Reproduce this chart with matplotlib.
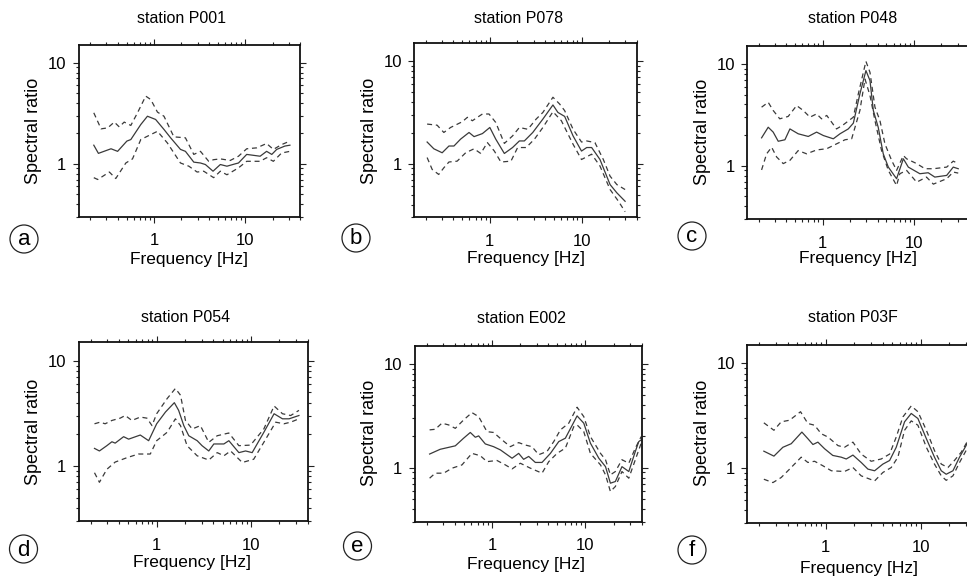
import matplotlib
matplotlib.use("Agg")
import matplotlib.pyplot as plt
from matplotlib.ticker import LogLocator, FixedLocator, FixedFormatter, NullFormatter
from matplotlib.patches import Circle

plt.rcParams['font.family'] = ['Liberation Sans', 'DejaVu Sans']

# ---------------- data (frequency [Hz], spectral ratio) ----------------
stations = ["P001", "P078", "P048", "P054", "E002", "P03F"]
panel_letters = ["a", "b", "c", "d", "e", "f"]
x_ticks = [1, 10]
x_tick_labels = ["1", "10"]
y_ticks = [1, 10]
y_tick_labels = ["1", "10"]

P001_mean = [(0.218, 1.53), (0.245, 1.27), (0.337, 1.41), (0.398, 1.33), (0.503, 1.68), (0.556, 1.74),
             (0.715, 2.45), (0.846, 2.96), (1.04, 2.75), (1.285, 2.19), (1.52, 1.81), (1.95, 1.39),
             (2.21, 1.33), (2.73, 1.04), (3.23, 1.02), (3.66, 0.985), (4.44, 0.846), (5.34, 0.985),
             (6.31, 0.948), (7.77, 1.0), (8.45, 1.02), (10.4, 1.24), (14.6, 1.19), (17.2, 1.33),
             (19.6, 1.24), (22.2, 1.39), (27.3, 1.50), (31.0, 1.53)]
P001_upper = [(0.218, 3.2), (0.262, 2.22), (0.31, 2.27), (0.366, 2.59), (0.415, 2.32), (0.47, 2.59),
              (0.556, 2.4), (0.658, 3.2), (0.81, 4.68), (0.92, 4.33), (1.09, 3.25), (1.285, 2.96),
              (1.65, 1.85), (2.21, 1.81), (2.73, 1.24), (3.23, 1.33), (3.98, 1.06), (4.51, 1.10),
              (5.34, 1.12), (6.85, 1.08), (8.45, 1.19), (10.4, 1.41), (13.4, 1.44), (17.2, 1.59),
              (20.4, 1.39), (25.1, 1.55), (31.0, 1.68)]
P001_lower = [(0.218, 0.73), (0.241, 0.70), (0.323, 0.83), (0.38, 0.716), (0.49, 1.02), (0.58, 1.12),
              (0.715, 1.74), (0.88, 1.91), (1.09, 2.1), (1.40, 1.61), (1.95, 1.02), (2.41, 0.948),
              (2.97, 0.83), (3.51, 0.846), (4.51, 0.73), (5.34, 0.846), (6.31, 0.78), (8.45, 0.913),
              (10.4, 1.06), (14.6, 1.06), (17.2, 1.15), (20.4, 1.06), (25.1, 1.28), (31.0, 1.33)]

P078_mean = [(0.207, 1.63), (0.245, 1.40), (0.302, 1.28), (0.358, 1.49), (0.406, 1.49), (0.48, 1.74),
             (0.593, 2.02), (0.673, 1.84), (0.83, 1.97), (1.0, 2.26), (1.16, 1.74), (1.44, 1.26),
             (1.77, 1.44), (2.1, 1.67), (2.38, 1.67), (2.94, 2.02), (3.79, 2.73), (4.88, 3.75),
             (5.53, 3.17), (6.55, 2.9), (8.09, 1.87), (10.0, 1.33), (11.4, 1.44), (12.9, 1.44),
             (15.9, 1.10), (20.5, 0.626), (24.3, 0.52), (29.9, 0.43)]
P078_upper = [(0.207, 2.44), (0.266, 2.38), (0.315, 2.02), (0.373, 2.26), (0.5, 2.57), (0.569, 2.84),
              (0.645, 2.63), (0.732, 2.84), (0.83, 3.06), (0.98, 3.06), (1.16, 2.53), (1.44, 1.58),
              (1.77, 1.87), (2.1, 2.26), (2.6, 2.17), (3.2, 2.73), (3.79, 3.17), (4.88, 4.46),
              (5.77, 3.83), (6.55, 3.3), (8.09, 2.17), (10.0, 1.63), (11.4, 1.67), (14.0, 1.61),
              (17.3, 1.10), (20.5, 0.756), (24.3, 0.626), (29.9, 0.56)]
P078_lower = [(0.207, 1.15), (0.235, 0.88), (0.277, 0.786), (0.315, 0.913), (0.358, 1.04), (0.44, 1.06),
              (0.545, 1.28), (0.673, 1.40), (0.796, 1.26), (0.94, 1.61), (1.12, 1.33), (1.32, 1.04),
              (1.70, 1.06), (2.01, 1.44), (2.49, 1.44), (3.07, 1.74), (3.79, 2.26), (4.88, 3.22),
              (6.03, 2.63), (8.09, 1.55), (10.0, 1.10), (12.9, 1.24), (15.9, 0.95), (20.5, 0.56),
              (25.3, 0.43), (29.9, 0.34)]

P048_mean = [(0.215, 1.88), (0.254, 2.39), (0.288, 2.14), (0.327, 1.74), (0.387, 1.80), (0.439, 2.30),
             (0.541, 2.06), (0.697, 1.94), (0.86, 2.14), (1.02, 1.98), (1.31, 1.84), (1.55, 2.06),
             (1.91, 2.3), (2.17, 2.62), (2.56, 5.08), (2.98, 8.6), (3.30, 6.87), (3.59, 3.49),
             (4.06, 2.39), (4.61, 1.31), (5.24, 0.97), (6.45, 0.746), (6.73, 0.835), (7.65, 1.17),
             (8.67, 0.97), (11.6, 0.835), (14.3, 0.854), (16.9, 0.774), (22.8, 0.804), (26.9, 0.97),
             (30.5, 0.935)]
P048_upper = [(0.215, 3.76), (0.254, 4.2), (0.288, 3.49), (0.34, 2.89), (0.42, 3.05), (0.52, 3.9),
              (0.614, 3.49), (0.727, 3.0), (0.86, 3.23), (0.975, 2.89), (1.11, 3.12), (1.42, 2.30),
              (1.68, 2.52), (2.17, 3.0), (2.46, 5.08), (2.98, 10.6), (3.30, 8.27), (3.74, 3.76),
              (4.24, 2.78), (4.81, 1.64), (5.69, 1.13), (6.45, 0.9), (7.65, 1.26), (8.31, 1.17),
              (10.7, 1.05), (13.2, 0.935), (16.3, 0.935), (22.8, 0.97), (26.9, 1.11), (30.5, 1.05)]
P048_lower = [(0.215, 0.91), (0.244, 1.31), (0.277, 1.52), (0.314, 1.22), (0.371, 1.05), (0.439, 1.13),
              (0.541, 1.41), (0.668, 1.31), (0.86, 1.43), (1.11, 1.47), (1.42, 1.64), (1.76, 1.80),
              (2.08, 1.84), (2.56, 3.49), (2.91, 7.1), (3.30, 4.9), (3.74, 2.78), (4.42, 1.41),
              (5.24, 0.9), (6.45, 0.64), (7.0, 0.835), (8.31, 0.9), (10.7, 0.69), (13.7, 0.774),
              (16.3, 0.66), (22.8, 0.746), (26.9, 0.867), (30.5, 0.847)]

P054_mean = [(0.219, 1.47), (0.247, 1.39), (0.296, 1.56), (0.335, 1.70), (0.363, 1.65), (0.446, 1.90),
             (0.504, 1.80), (0.67, 1.97), (0.822, 1.74), (1.0, 2.52), (1.24, 3.26), (1.54, 4.0),
             (1.71, 3.38), (1.94, 2.42), (2.19, 1.94), (2.69, 1.74), (3.03, 1.56), (3.57, 1.39),
             (4.04, 1.62), (5.16, 1.62), (5.83, 1.74), (7.45, 1.34), (8.77, 1.39), (10.3, 1.34),
             (13.7, 2.09), (17.6, 3.14), (21.6, 2.81), (25.4, 2.81), (32.3, 3.02)]
P054_upper = [(0.219, 2.52), (0.251, 2.61), (0.284, 2.52), (0.335, 2.71), (0.41, 2.85), (0.464, 3.02),
              (0.546, 2.71), (0.67, 2.92), (0.789, 2.85), (0.892, 2.42), (1.0, 3.14), (1.29, 4.37),
              (1.58, 5.46), (1.79, 4.71), (2.02, 2.71), (2.38, 2.25), (2.91, 2.42), (3.57, 1.68),
              (4.39, 1.94), (5.83, 2.06), (7.45, 1.56), (9.9, 1.58), (13.7, 2.25), (17.6, 3.72),
              (21.6, 3.14), (26.4, 3.02), (32.3, 3.38)]
P054_lower = [(0.219, 0.863), (0.247, 0.70), (0.296, 0.93), (0.363, 1.09), (0.484, 1.20), (0.64, 1.30),
              (0.856, 1.30), (1.0, 1.74), (1.29, 2.09), (1.58, 2.81), (1.79, 2.42), (2.1, 1.56),
              (2.69, 1.25), (3.57, 1.14), (4.39, 1.34), (5.16, 1.25), (6.08, 1.39), (8.09, 1.08),
              (10.7, 1.16), (13.7, 1.68), (18.3, 2.61), (22.4, 2.52), (26.4, 2.61), (32.3, 2.81)]

E002_mean = [(0.215, 1.35), (0.279, 1.50), (0.405, 1.62), (0.497, 1.92), (0.586, 2.18), (0.663, 1.96),
             (0.72, 2.02), (0.848, 1.69), (1.04, 1.59), (1.23, 1.48), (1.64, 1.23), (1.93, 1.37),
             (2.18, 1.20), (2.47, 1.28), (2.91, 1.12), (3.43, 1.12), (4.22, 1.37), (5.18, 1.78),
             (6.1, 1.92), (8.14, 3.15), (9.6, 2.68), (11.3, 1.72), (13.9, 1.23), (16.4, 1.02),
             (18.5, 0.706), (20.9, 0.733), (24.6, 1.02), (29.1, 0.915), (34.2, 1.43), (37.2, 1.78),
             (39.5, 1.85)]
E002_upper = [(0.215, 2.31), (0.247, 2.34), (0.291, 2.68), (0.343, 2.58), (0.405, 2.39), (0.497, 2.88),
              (0.61, 3.39), (0.72, 3.1), (0.884, 2.22), (1.04, 2.18), (1.28, 1.85), (1.57, 1.59),
              (1.93, 1.74), (2.27, 1.65), (2.68, 1.59), (3.16, 1.33), (3.88, 1.43), (4.58, 1.78),
              (5.4, 2.31), (6.63, 2.68), (8.14, 3.82), (9.6, 3.1), (11.3, 1.99), (14.5, 1.37),
              (16.4, 1.19), (18.5, 0.85), (20.9, 0.915), (24.6, 1.19), (29.1, 1.10), (34.2, 1.54),
              (39.5, 1.99)]
E002_lower = [(0.215, 0.789), (0.247, 0.882), (0.304, 0.882), (0.373, 0.985), (0.477, 1.06), (0.61, 1.37),
              (0.75, 1.30), (0.884, 1.14), (1.13, 1.17), (1.39, 1.06), (1.64, 0.97), (2.01, 1.10),
              (2.58, 0.985), (3.43, 0.882), (4.05, 1.14), (4.97, 1.37), (6.1, 1.54), (7.5, 2.48),
              (8.14, 2.58), (9.6, 2.22), (11.3, 1.37), (14.5, 1.06), (16.4, 0.85), (18.5, 0.587),
              (20.9, 0.656), (24.6, 0.915), (29.1, 0.789), (34.2, 1.19), (39.5, 1.72)]

P03F_mean = [(0.224, 1.46), (0.286, 1.31), (0.355, 1.59), (0.435, 1.72), (0.563, 2.22), (0.651, 1.92),
             (0.736, 1.69), (0.83, 1.78), (0.976, 1.54), (1.19, 1.33), (1.46, 1.28), (1.65, 1.23),
             (1.94, 1.34), (2.37, 1.14), (2.79, 0.985), (3.28, 0.95), (4.01, 1.10), (4.72, 1.19),
             (5.54, 1.59), (6.78, 2.78), (7.97, 3.34), (9.37, 2.99), (11.5, 1.92), (14.0, 1.28),
             (16.5, 0.95), (18.6, 0.88), (21.9, 0.95), (25.7, 1.28), (30.1, 1.65), (32.7, 1.99),
             (39.0, 2.5)]
P03F_upper = [(0.224, 2.72), (0.286, 2.31), (0.341, 2.78), (0.418, 2.88), (0.545, 3.47), (0.651, 2.68),
              (0.766, 2.58), (0.9, 2.14), (1.06, 1.99), (1.35, 1.65), (1.58, 1.59), (1.94, 1.78),
              (2.37, 1.37), (3.02, 1.17), (3.85, 1.23), (4.72, 1.37), (5.54, 1.99), (6.52, 3.1),
              (7.97, 3.94), (9.37, 3.47), (11.5, 2.31), (14.0, 1.48), (16.5, 1.10), (19.4, 1.02),
              (22.7, 1.19), (26.8, 1.43), (31.5, 1.85), (39.0, 2.6)]
P03F_lower = [(0.224, 0.789), (0.279, 0.733), (0.341, 0.819), (0.418, 0.985), (0.554, 1.28), (0.651, 1.14),
              (0.766, 1.17), (0.937, 1.06), (1.15, 0.95), (1.58, 0.935), (1.94, 1.02), (2.37, 0.85),
              (3.28, 0.76), (4.01, 0.915), (4.91, 1.02), (5.77, 1.28), (6.78, 2.31), (7.97, 2.84),
              (9.37, 2.58), (11.5, 1.59), (14.0, 1.10), (16.5, 0.85), (18.6, 0.77), (21.9, 0.85),
              (25.7, 1.14), (30.1, 1.48), (39.0, 2.3)]

curves = {
    "P001": (P001_mean, P001_upper, P001_lower),
    "P078": (P078_mean, P078_upper, P078_lower),
    "P048": (P048_mean, P048_upper, P048_lower),
    "P054": (P054_mean, P054_upper, P054_lower),
    "E002": (E002_mean, E002_upper, E002_lower),
    "P03F": (P03F_mean, P03F_upper, P03F_lower),
}

# ---------------- layout (pixels) ----------------
W, H = 967, 578
fig = plt.figure(figsize=(W / 100, H / 100), dpi=100)

# frame boxes: left, top, right, bottom
frames = [(79, 45, 300, 216.7), (414.3, 43.3, 636.7, 217.3), (747.3, 46, 969, 219),
          (79, 342.3, 307.7, 521), (415, 345.7, 641.7, 521.7), (747.3, 345, 977.8, 523.3)]
title_pos = [(181.5, 18.8), (519, 18.5), (852.5, 18.5), (186, 317), (521.7, 318.5), (853, 317)]
ylab_pos = [(34, 131), (370, 131), (702.5, 132), (34, 432), (369, 433), (702.5, 433)]
xlab_pos = [(188.8, 259.5), (525.8, 259), (858, 258), (191.7, 563), (525.8, 564.5), (859, 568)]
circ_pos = [(24, 239), (356, 238), (692, 236), (23.5, 549), (357.5, 546), (692, 550)]

def fx(x):
    return x / W

def fy(y):
    return 1 - y / H

line_col = "#3a3a3a"
for i, st in enumerate(stations):
    l, t, r, b = frames[i]
    ax = fig.add_axes([fx(l), fy(b), (r - l) / W, (b - t) / H])
    ax.set_xscale("log")
    ax.set_yscale("log")
    mean, up, lo = curves[st]
    for data, ls in ((up, (0, (4, 3))), (lo, (0, (4, 3))), (mean, "-")):
        xs = [p[0] for p in data]
        ys = [p[1] for p in data]
        ax.plot(xs, ys, color=line_col, lw=0.9, linestyle=ls)
    ax.set_xlim(0.15, 40)
    ax.set_ylim(0.3, 15)
    ax.xaxis.set_major_locator(FixedLocator(x_ticks))
    ax.xaxis.set_major_formatter(FixedFormatter(x_tick_labels))
    ax.yaxis.set_major_locator(FixedLocator(y_ticks))
    ax.yaxis.set_major_formatter(FixedFormatter(y_tick_labels))
    for axis in (ax.xaxis, ax.yaxis):
        axis.set_minor_locator(LogLocator(base=10, subs=range(2, 10), numticks=20))
        axis.set_minor_formatter(NullFormatter())
    ax.tick_params(which="both", direction="out", top=True, right=True, width=0.8, color="#222222")
    ax.tick_params(which="major", length=4.0)
    ax.tick_params(which="minor", length=2.2)
    ax.tick_params(axis="x", which="major", labelsize=12, pad=8)
    ax.tick_params(axis="y", which="major", labelsize=12, pad=5)
    for s in ax.spines.values():
        s.set_linewidth(1.3)
        s.set_color("#111111")

    tx, ty = title_pos[i]
    fig.text(fx(tx), fy(ty), "station " + st, ha="center", va="center", fontsize=11.5)
    yx, yy = ylab_pos[i]
    fig.text(fx(yx), fy(yy), "Spectral ratio", ha="center", va="center", rotation=90, fontsize=13)
    xx, xy = xlab_pos[i]
    fig.text(fx(xx), fy(xy), "Frequency [Hz]", ha="center", va="center", fontsize=12.5)
    cx, cy = circ_pos[i]
    circ = Circle((cx / 100, (H - cy) / 100), 0.14, transform=fig.dpi_scale_trans,
                  fill=False, lw=0.9, edgecolor="#222222")
    fig.add_artist(circ)
    fig.text(fx(cx), fy(cy + 1), panel_letters[i], ha="center", va="center", fontsize=16)

fig.savefig("out.png", dpi=100)
